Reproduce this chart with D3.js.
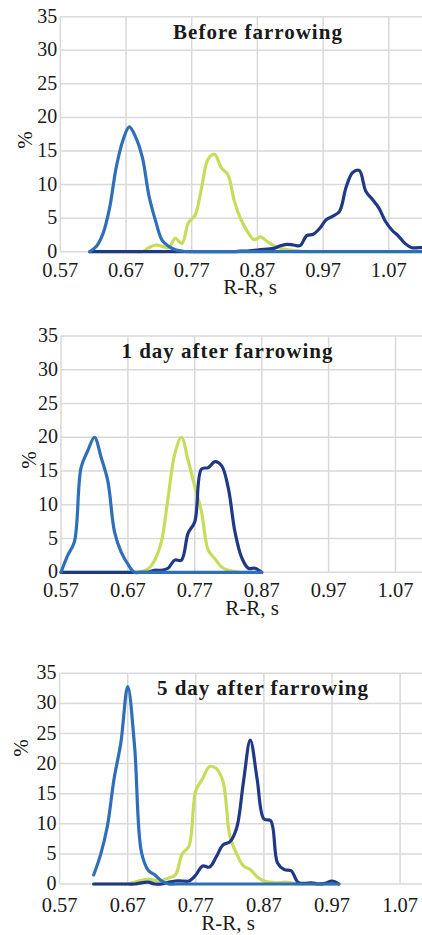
<!DOCTYPE html>
<html>
<head>
<meta charset="utf-8">
<script src="https://cdn.jsdelivr.net/npm/d3@7"></script>
<style>
  html, body { margin: 0; padding: 0; background: #fff; }
  svg { display: block; }
  text { font-family: "Liberation Serif", "Times New Roman", serif; fill: #1a1a1a; }
</style>
</head>
<body>
<div id="chart"></div>
<script>
// tick labels shared by the three panels
var xTicks = [0.57, 0.67, 0.77, 0.87, 0.97, 1.07];
var yTicks = [0, 5, 10, 15, 20, 25, 30, 35];
var titles = ["Before farrowing", "1 day after farrowing", "5 day after farrowing"];

// before farrowing, R-R bins (s) and % of intervals
var rrBefore = [0.615, 0.625, 0.635, 0.645, 0.655, 0.665, 0.675, 0.685, 0.695, 0.705,
                0.715, 0.725, 0.735, 0.745, 0.755, 0.765, 0.775, 0.785, 0.795, 0.805,
                0.815, 0.825, 0.835, 0.845, 0.855, 0.865, 0.875, 0.885, 0.895, 0.905,
                0.915, 0.925, 0.935, 0.945, 0.955, 0.965, 0.975, 0.985, 0.995, 1.005,
                1.015, 1.025, 1.035, 1.045, 1.055, 1.065, 1.075, 1.085, 1.095, 1.105,
                1.115, 1.125];
var beforeBlue = [0, 0.8, 2.7, 6.5, 12.5, 16.5, 18.6, 17.0, 14.0, 8.3,
                  4.6, 1.7, 0.8, 0.3, 0.1, 0, 0, 0, 0, 0,
                  0, 0, 0, 0, 0, 0, 0, 0, 0, 0,
                  0, 0, 0, 0, 0, 0, 0, 0, 0, 0,
                  0, 0, 0, 0, 0, 0, 0, 0, 0, 0,
                  0, 0];
var beforeLime = [0, 0, 0, 0, 0, 0, 0, 0, 0, 0.6,
                  1.0, 0.8, 0.6, 2.0, 1.2, 4.3, 5.4, 9.5, 13.8, 14.5,
                  12.5, 11.5, 7.5, 4.8, 3.0, 1.8, 2.2, 1.5, 0.9, 0.5,
                  0.3, 0.2, 0.1, 0, 0, 0, 0, 0, 0, 0,
                  0, 0, 0, 0, 0, 0, 0, 0, 0, 0,
                  0, 0];
var beforeNavy = [0, 0, 0, 0, 0, 0, 0, 0, 0, 0,
                  0, 0, 0, 0, 0, 0, 0, 0, 0, 0,
                  0, 0, 0, 0.1, 0.1, 0.2, 0.3, 0.4, 0.5, 0.9,
                  1.1, 1.0, 0.9, 2.4, 2.6, 3.5, 4.8, 5.3, 6.0, 9.6,
                  11.8, 12.1, 9.0, 7.8, 6.5, 4.5, 3.2, 2.3, 1.2, 0.6,
                  0.6, 0.6];

// 1 day after farrowing
var rrDay1 = [0.57, 0.58, 0.59, 0.60, 0.61, 0.62, 0.63, 0.64, 0.65, 0.66,
              0.67, 0.68, 0.69, 0.70, 0.71, 0.72, 0.73, 0.74, 0.75, 0.76,
              0.77, 0.78, 0.79, 0.80, 0.81, 0.82, 0.83, 0.84, 0.85, 0.86,
              0.87];
var day1Blue = [0, 2.5, 4.5, 15.5, 18.0, 20.0, 17.0, 13.5, 6.0, 3.0,
                1.2, 0, 0, 0, 0, 0, 0, 0, 0, 0,
                0, 0, 0, 0, 0, 0, 0, 0, 0, 0,
                0];
var day1Lime = [0, 0, 0, 0, 0, 0, 0, 0, 0, 0,
                0, 0, 0.1, 0.5, 1.8, 4.5, 11.0, 17.5, 20.0, 16.6,
                12.7, 9.0, 3.3, 2.0, 0.8, 0.3, 0.1, 0, 0, 0,
                0];
var day1Navy = [0, 0, 0, 0, 0, 0, 0, 0, 0, 0,
                0, 0, 0, 0, 0.3, 0.3, 0.6, 1.8, 1.8, 5.8,
                7.5, 15.3, 15.5, 16.4, 15.8, 12.5, 6.0, 2.2, 0.6, 0.6,
                0];

// 5 day after farrowing
var rrDay5 = [0.62, 0.63, 0.64, 0.65, 0.66, 0.67, 0.68, 0.69, 0.70, 0.71,
              0.72, 0.73, 0.74, 0.75, 0.76, 0.77, 0.78, 0.79, 0.80, 0.81,
              0.82, 0.83, 0.84, 0.85, 0.86, 0.87, 0.88, 0.89, 0.90, 0.91,
              0.92, 0.93, 0.94, 0.95, 0.96, 0.97, 0.98];
var day5Blue = [1.5, 4.8, 9.5, 17.5, 23.5, 32.8, 23.0, 5.4, 2.3, 1.5,
                0.5, 0, 0, 0, 0, 0, 0, 0, 0, 0,
                0, 0, 0, 0, 0, 0, 0, 0, 0, 0,
                0, 0, 0, 0, 0, 0, 0];
var day5Lime = [0, 0, 0, 0, 0, 0, 0.3, 0.6, 0.8, 0.6,
                0.6, 1.0, 1.5, 5.0, 6.3, 15.5, 17.5, 19.5, 19.2, 17.0,
                8.0, 5.0, 3.0, 2.4, 1.2, 0.5, 0.3, 0.2, 0.3, 0.2,
                0, 0, 0, 0, 0, 0, 0];
var day5Navy = [0, 0, 0, 0, 0, 0, 0, 0.2, 0.3, 0,
                0, 0.3, 0.5, 0.5, 0.5, 1.5, 3.0, 2.8, 4.5, 6.5,
                7.0, 9.3, 17.0, 23.9, 17.5, 10.8, 10.5, 3.5, 2.4, 2.2,
                0.3, 0.1, 0.2, 0, 0.1, 0.5, 0];

var colors = {lime: "#c8dc5c", navy: "#1f3986", blue: "#2f6fba"};

var width = 422, height = 935;
var svg = d3.select("#chart").append("svg")
    .attr("width", width)
    .attr("height", height);

// layout of each panel
var panels = [
    {title: titles[0], rr: rrBefore, blue: beforeBlue, lime: beforeLime, navy: beforeNavy,
     left: 60.3, step: 65.7, top: 16.7, bottom: 251.7, tickY: 276.5, labelY: 294, labelX: 250,
     pctX: 25, pctY: 140, titleX: 258, titleY: 38.5},
    {title: titles[1], rr: rrDay1, blue: day1Blue, lime: day1Lime, navy: day1Navy,
     left: 61, step: 66.9, top: 336, bottom: 572.3, tickY: 597, labelY: 615, labelX: 252,
     pctX: 29, pctY: 460, titleX: 227.5, titleY: 358},
    {title: titles[2], rr: rrDay5, blue: day5Blue, lime: day5Lime, navy: day5Navy,
     left: 59.6, step: 68.1, top: 673.3, bottom: 884, tickY: 911.5, labelY: 930, labelX: 228,
     pctX: 21, pctY: 748, titleX: 263, titleY: 695}
];

panels.forEach(drawPanel);

function drawPanel(p) {
    var g = svg.append("g");

    var x = d3.scaleLinear()
        .domain([0.57, 1.07])
        .range([p.left, p.left + 5 * p.step]);
    var y = d3.scaleLinear()
        .domain([0, 35])
        .range([p.bottom, p.top]);

    // grid
    g.selectAll(".hgrid")
        .data(yTicks)
        .enter()
        .append("line")
        .attr("x1", p.left)
        .attr("x2", width)
        .attr("y1", function (d) { return y(d); })
        .attr("y2", function (d) { return y(d); })
        .style("stroke", "#d9d9d9")
        .style("stroke-width", 1.5);

    g.selectAll(".vgrid")
        .data(xTicks)
        .enter()
        .append("line")
        .attr("x1", function (d) { return x(d); })
        .attr("x2", function (d) { return x(d); })
        .attr("y1", p.top)
        .attr("y2", p.bottom)
        .style("stroke", "#d9d9d9")
        .style("stroke-width", 1.5);

    // axis labels
    g.selectAll(".ytick")
        .data(yTicks)
        .enter()
        .append("text")
        .attr("x", p.left - 3)
        .attr("y", function (d) { return y(d); })
        .attr("dy", "0.3em")
        .style("text-anchor", "end")
        .style("font-size", "20px")
        .text(function (d) { return d; });

    g.selectAll(".xtick")
        .data(xTicks)
        .enter()
        .append("text")
        .attr("x", function (d) { return x(d); })
        .attr("y", p.tickY)
        .style("text-anchor", "middle")
        .style("font-size", "20.5px")
        .text(function (d) { return d3.format(".2f")(d); });

    g.append("text")
        .attr("x", p.labelX)
        .attr("y", p.labelY)
        .style("text-anchor", "middle")
        .style("font-size", "21px")
        .text("R-R, s");

    g.append("text")
        .attr("transform", "translate(" + p.pctX + "," + p.pctY + ") rotate(-90)")
        .attr("dy", "0.34em")
        .style("text-anchor", "middle")
        .style("font-size", "21px")
        .text("%");

    g.append("text")
        .attr("x", p.titleX)
        .attr("y", p.titleY)
        .style("text-anchor", "middle")
        .style("font-size", "21px")
        .style("font-weight", "bold")
        .style("letter-spacing", "1px")
        .text(p.title);

    // series, blue drawn last so its zero line sits on top
    var line = d3.line()
        .x(function (d) { return x(d[0]); })
        .y(function (d) { return y(d[1]); })
        .curve(d3.curveCatmullRom.alpha(0.5));

    ["lime", "navy", "blue"].forEach(function (key) {
        var pts = p.rr.map(function (r, i) { return [r, p[key][i]]; });
        g.append("path")
            .datum(pts)
            .attr("d", line)
            .style("fill", "none")
            .style("stroke", colors[key])
            .style("stroke-width", 3.2)
            .style("stroke-linejoin", "round")
            .style("stroke-linecap", "round");
    });
}
</script>
</body>
</html>
